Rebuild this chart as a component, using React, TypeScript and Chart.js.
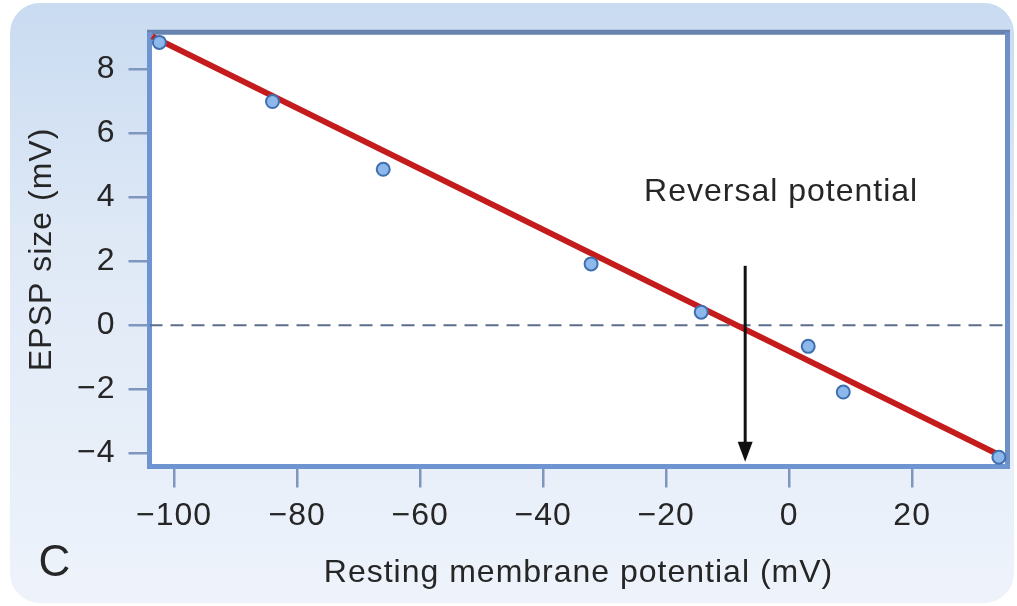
import React, { useEffect, useRef } from "react";
import { Chart, registerables } from "chart.js";

Chart.register(...registerables);

// ---- data ----
const membraneMV = [-102.4, -84.0, -66.0, -32.2, -14.3, 3.1, 8.8, 34.1];
const epspMV = [8.85, 7.0, 4.88, 1.92, 0.41, -0.66, -2.09, -4.13];
const fitX = [-103.6, 34.3];
const fitY = [9.04, -4.07];
const zeroX = [-104, 35.5];
const zeroY = [0, 0];
const arrowX = -7.15;
const arrowTop = 1.86;
const arrowTip = -4.27;
const noteX = -1.3;
const noteY = 3.89;
const noteText = "Reversal potential";
const panelLetter = "C";
const xTicks = [-100, -80, -60, -40, -20, 0, 20];
const yTicks = [-4, -2, 0, 2, 4, 6, 8];
const xRange = [-104, 35.5];
const yRange = [-4.42, 9.17];

const FONT = '"Liberation Sans", Arial, Helvetica, sans-serif';
const TEXT = "#262626";

const fmt = (v: number) => (v < 0 ? "\u2212" + Math.abs(v) : String(v));

const decor = {
  id: "decor",
  beforeDraw(chart: any) {
    const ctx = chart.ctx as CanvasRenderingContext2D;
    const { width, height } = chart;
    ctx.save();
    const g = ctx.createLinearGradient(0, 0, 0, height);
    g.addColorStop(0, "#c9dbf1");
    g.addColorStop(0.4, "#dfe9f6");
    g.addColorStop(1, "#eef3fb");
    ctx.fillStyle = g;
    ctx.beginPath();
    (ctx as any).roundRect(10, 3, width - 13, height - 6, 30);
    ctx.fill();
    const a = chart.chartArea;
    ctx.fillStyle = "#ffffff";
    ctx.fillRect(a.left, a.top, a.right - a.left, a.bottom - a.top);
    ctx.restore();
    (ctx as any).letterSpacing = "1px";
  },
  beforeDatasetsDraw(chart: any) {
    const ctx = chart.ctx as CanvasRenderingContext2D;
    const a = chart.chartArea;
    const w = 5;
    ctx.save();
    ctx.lineWidth = w;
    ctx.lineCap = "butt";
    const side = (c: string, x1: number, y1: number, x2: number, y2: number) => {
      ctx.strokeStyle = c;
      ctx.beginPath();
      ctx.moveTo(x1, y1);
      ctx.lineTo(x2, y2);
      ctx.stroke();
    };
    side("#6784b1", a.left - w / 2, a.top, a.right + w / 2, a.top);
    side("#6f90c6", a.right, a.top, a.right, a.bottom + w / 2);
    side("#6e95d2", a.left - w / 2, a.bottom, a.right + w / 2, a.bottom);
    side("#6e95d2", a.left, a.top, a.left, a.bottom + w / 2);
    ctx.restore();
  },
  afterDatasetsDraw(chart: any) {
    const ctx = chart.ctx as CanvasRenderingContext2D;
    const xs = chart.scales.x;
    const ys = chart.scales.y;
    ctx.save();
    // arrow
    const ax = xs.getPixelForValue(arrowX);
    const top = ys.getPixelForValue(arrowTop);
    const tip = ys.getPixelForValue(arrowTip);
    const headH = 20;
    const headW = 7.5;
    ctx.strokeStyle = "#111111";
    ctx.fillStyle = "#111111";
    ctx.lineWidth = 3;
    ctx.beginPath();
    ctx.moveTo(ax, top);
    ctx.lineTo(ax, tip - headH + 2);
    ctx.stroke();
    ctx.beginPath();
    ctx.moveTo(ax, tip);
    ctx.lineTo(ax - headW, tip - headH);
    ctx.lineTo(ax + headW, tip - headH);
    ctx.closePath();
    ctx.fill();
    // annotation text
    ctx.fillStyle = TEXT;
    ctx.font = `32px ${FONT}`;
    ctx.textAlign = "center";
    ctx.textBaseline = "alphabetic";
    ctx.fillText(noteText, xs.getPixelForValue(noteX), ys.getPixelForValue(noteY));
    // panel letter
    ctx.font = `44px ${FONT}`;
    ctx.fillText(panelLetter, 55, 576);
    ctx.restore();
  },
};

export default function App() {
  const ref = useRef<HTMLCanvasElement>(null);
  useEffect(() => {
    if (!ref.current) return;
    const tickFont = { family: FONT, size: 32, lineHeight: 1.2 };
    const gridCfg = {
      display: true,
      drawOnChartArea: false,
      drawTicks: true,
      tickLength: 21,
      lineWidth: 2.5,
      tickWidth: 2.5,
      color: "#7f97bf",
      tickColor: "#7f97bf",
    };
    const chart = new Chart(ref.current, {
      type: "scatter",
      data: {
        datasets: [
          {
            label: "EPSP",
            data: membraneMV.map((x, i) => ({ x, y: epspMV[i] })),
            pointRadius: 6.5,
            pointBackgroundColor: "#8cb8ec",
            pointBorderColor: "#3f6fae",
            pointBorderWidth: 2,
            showLine: false,
            clip: false,
          } as any,
          {
            label: "fit",
            data: fitX.map((x, i) => ({ x, y: fitY[i] })),
            showLine: true,
            borderColor: "#c41c1c",
            borderWidth: 6,
            pointRadius: 0,
            borderCapStyle: "butt",
            clip: false,
          } as any,
          {
            label: "zero",
            data: zeroX.map((x, i) => ({ x, y: zeroY[i] })),
            showLine: true,
            borderColor: "#5d6d8c",
            borderWidth: 2,
            borderDash: [13, 8],
            pointRadius: 0,
          } as any,
        ],
      },
      options: {
        animation: false,
        responsive: false,
        devicePixelRatio: 1,
        layout: { padding: { left: 0, top: 30.5, right: 9.5, bottom: 0 } },
        plugins: {
          legend: { display: false },
          tooltip: { enabled: false },
        },
        scales: {
          x: {
            type: "linear",
            min: xRange[0],
            max: xRange[1],
            afterBuildTicks: (s: any) => {
              s.ticks = xTicks.map((v) => ({ value: v }));
            },
            afterFit: (s: any) => {
              s.height = 139.5;
            },
            grid: gridCfg,
            border: { display: false },
            ticks: {
              padding: 9,
              color: TEXT,
              font: tickFont,
              maxRotation: 0,
              autoSkip: false,
              callback: (v: any) => fmt(Number(v)),
            },
            title: {
              display: true,
              text: "Resting membrane potential (mV)",
              color: TEXT,
              font: tickFont,
              padding: { top: 0, bottom: 14 },
            },
          },
          y: {
            type: "linear",
            min: yRange[0],
            max: yRange[1],
            afterBuildTicks: (s: any) => {
              s.ticks = yTicks.map((v) => ({ value: v }));
            },
            afterFit: (s: any) => {
              s.width = 149.5;
            },
            grid: gridCfg,
            border: { display: false },
            ticks: {
              padding: 13,
              color: TEXT,
              font: tickFont,
              autoSkip: false,
              callback: (v: any) => fmt(Number(v)),
            },
            title: {
              display: true,
              text: "EPSP size (mV)",
              color: TEXT,
              font: tickFont,
              padding: { top: 23, bottom: 0 },
            },
          },
        },
      } as any,
      plugins: [decor as any],
    });
    return () => chart.destroy();
  }, []);
  return (
    <div
      style={{
        position: "fixed",
        left: 0,
        top: 0,
        width: 1017,
        height: 606,
        background: "#ffffff",
      }}
    >
      <canvas ref={ref} width={1017} height={606} style={{ display: "block" }} />
    </div>
  );
}
